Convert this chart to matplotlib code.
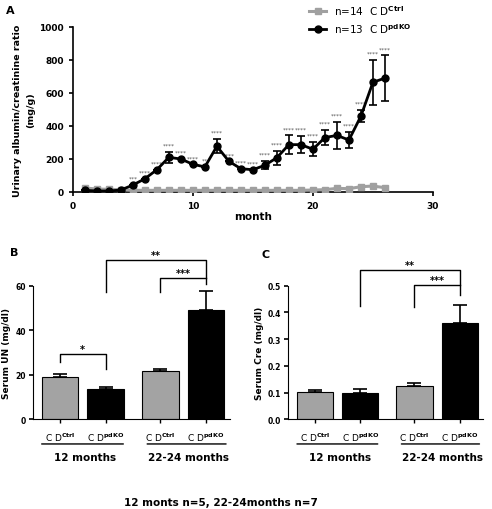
import numpy as np
import matplotlib
matplotlib.use('Agg')
import matplotlib.pyplot as plt

plt.rcParams['font.family'] = ['DejaVu Sans']
plt.rcParams['font.weight'] = 'bold'

# datos panel A
months = list(range(1, 27))
ctrl = [24, 18, 16, 14, 10, 10, 10, 10, 10, 10, 10, 10, 10, 10, 10, 10, 10, 10, 10, 12, 14, 22, 20, 32, 36, 26]
pdko = [10, 6, 6, 12, 42, 80, 135, 210, 200, 168, 152, 277, 186, 141, 135, 162, 208, 287, 287, 259, 330, 343, 315, 460, 665, 690]
pdko_err = [0, 0, 0, 0, 0, 0, 0, 35, 0, 0, 0, 43, 0, 0, 0, 25, 42, 57, 52, 43, 48, 80, 50, 37, 136, 138]
stars_a = ['', '', '', '', '***', '****', '****', '****', '****', '****', '**', '****', '****', '****',
           '****', '****', '****', '****', '****', '****', '****', '****', '****', '****', '****', '****']

# datos panel B y C
bar_labels = [r'C D$^{\mathrm{Ctrl}}$', r'C D$^{\mathrm{pdKO}}$', r'C D$^{\mathrm{Ctrl}}$', r'C D$^{\mathrm{pdKO}}$']
groups = ['12 months', '22-24 months']
un_mean = [19.0, 13.4, 21.5, 49.0]
un_err = [1.1, 1.3, 1.2, 8.6]
cre_mean = [0.101, 0.099, 0.125, 0.359]
cre_err = [0.009, 0.014, 0.009, 0.069]
bar_colors = ['#a3a3a3', 'black', '#a3a3a3', 'black']
xpos = [0, 1, 2.2, 3.2]

fig = plt.figure(figsize=(4.92, 5.10), dpi=100)

# ---------- A ----------
ax = fig.add_axes([0.148, 0.6216, 0.732, 0.3235])
l1, = ax.plot(months, ctrl, color='#a0a0a0', lw=2.2, marker='s', ms=5, label=r'n=14  C D$^{\mathrm{Ctrl}}$', zorder=3)
ax.errorbar(months, pdko, yerr=pdko_err, fmt='none', ecolor='black',
            capsize=3, elinewidth=1.2, capthick=1.2, zorder=4)
l2, = ax.plot(months, pdko, color='black', lw=2, marker='o', ms=5, label=r'n=13  C D$^{\mathrm{pdKO}}$', zorder=5)
for m, v, e, s in zip(months, pdko, pdko_err, stars_a):
    if s:
        ax.annotate(s, (m, v + e), xytext=(0, 3), textcoords='offset points', ha='center', va='bottom',
                    fontsize=4.3, color='#555555', fontweight='normal')
ax.set_xlim(0, 30)
ax.set_ylim(0, 1000)
ax.set_xticks([0, 10, 20, 30])
ax.set_yticks([0, 200, 400, 600, 800, 1000])
ax.spines['top'].set_visible(False)
ax.spines['right'].set_visible(False)
ax.spines['left'].set_linewidth(1.2)
ax.spines['bottom'].set_linewidth(1.2)
ax.tick_params(labelsize=6.5, width=1.2, length=3)
ax.set_xlabel('month', fontsize=7.5, fontweight='bold', labelpad=1)
ax.set_ylabel('Urinary albumin/creatinine ratio\n(mg/g)', fontsize=6.8, fontweight='bold', labelpad=3,
              linespacing=1.6)
leg = fig.legend(handles=[l1, l2], loc='upper left', bbox_to_anchor=(0.61, 1.01), frameon=False, fontsize=7.5,
                 handlelength=1.6, labelspacing=0.4)
for t in leg.get_texts():
    t.set_fontweight('normal')
fig.text(0.012, 0.978, 'A', fontsize=8, fontweight='bold', va='center')


# ---------- B / C ----------
def panel_barras(rect, mean, err, ylim, yticks, ylabel, brackets, fmt):
    ax = fig.add_axes(rect)
    ax.bar(xpos, mean, width=0.8, color=bar_colors, edgecolor='black', linewidth=0.8, zorder=2)
    ax.errorbar(xpos, mean, yerr=[np.zeros(4), err], fmt='none', ecolor='black', elinewidth=1.2,
                capsize=5, capthick=1.2, zorder=1)
    ax.set_xlim(-0.59, 3.72)
    ax.set_ylim(*ylim)
    ax.set_yticks(yticks)
    ax.yaxis.set_major_formatter(plt.FormatStrFormatter(fmt))
    ax.set_xticks(xpos)
    ax.set_xticklabels(bar_labels, fontsize=6.5, fontweight='normal')
    ax.spines['top'].set_visible(False)
    ax.spines['right'].set_visible(False)
    ax.tick_params(axis='y', labelsize=5.5, width=1.2, length=3, pad=2)
    ax.tick_params(axis='x', width=1, length=3, pad=5)
    ax.set_ylabel(ylabel, fontsize=6.5, fontweight='bold', labelpad=3)
    for x0, x1, y, h0, h1, s in brackets:
        ax.plot([x0, x0, x1, x1], [h0, y, y, h1], color='black', lw=1, clip_on=False)
        ax.text((x0 + x1) / 2, y, s, ha='center', va='bottom', fontsize=7, clip_on=False)
    # lineas de grupo y etiquetas
    for (a, b), g in zip([(-0.46, 1.45), (1.85, 3.7)], groups):
        ax.annotate('', xy=(a, -0.185), xytext=(b, -0.185), xycoords=('data', 'axes fraction'),
                    textcoords=('data', 'axes fraction'),
                    arrowprops=dict(arrowstyle='-', lw=1, color='black'), annotation_clip=False)
        ax.text((a + b) / 2 + 0.05, -0.28, g, transform=ax.get_xaxis_transform(), ha='center', va='center',
                fontsize=7.5, fontweight='bold')
    return ax


panel_barras([0.067, 0.176, 0.400, 0.262], un_mean, un_err, (0, 60), [0, 20, 40, 60], 'Serum UN (mg/dl)',
             [(0, 1, 29.2, 25.9, 22.4, '*'), (1, 3.2, 71.3, 57.3, 60.7, '**'),
              (2.2, 3.2, 63.2, 57.0, 63.2, '***')], '%d')
panel_barras([0.586, 0.176, 0.396, 0.262], cre_mean, cre_err, (0, 0.5), [0, 0.1, 0.2, 0.3, 0.4, 0.5],
             'Serum Cre (mg/dl)',
             [(1, 3.2, 0.56, 0.425, 0.465, '**'), (2.2, 3.2, 0.503, 0.42, 0.503, '***')], '%.1f')

fig.text(0.02, 0.503, 'B', fontsize=8, fontweight='bold', va='center')
fig.text(0.532, 0.5, 'C', fontsize=8, fontweight='bold', va='center')
fig.text(0.45, 0.014, '12 monts n=5, 22-24months n=7', fontsize=7.5, fontweight='bold', ha='center', va='center')

fig.savefig('out.png', dpi=100)
